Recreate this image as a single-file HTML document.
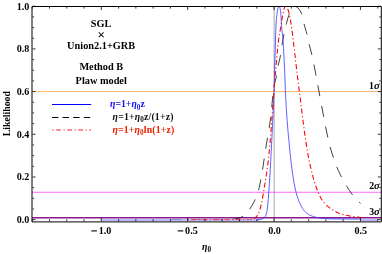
<!DOCTYPE html>
<html><head><meta charset="utf-8"><style>
html,body{margin:0;padding:0;background:#fff;}
svg{display:block;will-change:transform;}
text{font-family:"Liberation Serif",serif;font-weight:bold;font-size:9.8px;fill:#000;}
.i{font-style:italic;}
.sub{font-size:7.2px;}
.sg{font-size:10.6px;}
.t{font-size:10.3px;}
.k{font-size:10.1px;}
</style></head><body>
<svg width="382" height="254" viewBox="0 0 382 254">
<path d="M274.15,6.5 V221.7" stroke="#a8a8a8" stroke-width="1" fill="none"/>
<path d="M32,91.5 H381.5" stroke="#ffb672" stroke-width="1" fill="none"/>
<path d="M32,192.25 H381.5" stroke="#ff00ff" stroke-width="0.6" fill="none"/>
<path d="M32,217.7 H381.5" stroke="#8a1a8a" stroke-width="1.5" fill="none"/>
<path d="M294.50,6.50 L295.65,6.50 L295.80,6.55 L296.85,7.12 L297.90,7.95 L298.75,8.81 L299.55,9.84 L300.30,11.04 L300.95,12.32 L301.65,14.04 L302.10,15.49 L302.60,17.51 L304.05,23.99 L304.70,26.35 L306.20,31.35 L306.85,33.70 L307.50,36.45 L309.20,44.42 L311.85,54.68 L312.75,58.73 L313.70,63.31 L315.70,73.69 L324.15,119.34 L325.70,127.32 L327.10,134.10 L328.65,141.00 L330.10,146.77 L331.60,152.02 L333.35,157.52 L334.65,161.25 L335.95,164.71 L337.30,168.06 L338.75,171.40 L340.25,174.61 L341.80,177.70 L343.45,180.76 L345.15,183.72 L347.05,186.82 L349.10,189.96 L351.10,192.85 L352.90,195.25 L354.75,197.51 L356.65,199.63 L358.60,201.61 L360.60,203.45" stroke="#000" stroke-width="0.75" stroke-dasharray="11.2 9.8" stroke-dashoffset="20.89" fill="none"/>
<path d="M294.50,6.50 L293.45,6.51 L293.10,6.74 L292.75,7.04 L292.10,7.80 L291.50,8.75 L290.90,9.91 L290.25,11.40 L289.50,13.35 L288.70,15.62 L287.90,18.09 L286.50,23.02 L285.05,29.11 L283.60,36.12 L282.75,40.60 L282.10,44.40 L280.90,53.04 L280.45,55.71 L279.95,58.09 L278.80,62.85 L278.30,65.20 L277.85,67.75 L276.85,74.04 L276.35,76.74 L275.85,78.85 L274.50,83.72 L274.15,85.29 L273.80,87.19 L273.40,90.09 L272.95,94.18 L271.55,109.22 L271.00,114.65 L270.40,119.50 L269.65,124.77 L268.75,130.44 L266.10,146.13 L263.00,166.70 L261.55,175.67 L260.65,180.64 L259.80,184.83 L258.95,188.51 L258.10,191.66 L257.15,194.63 L256.10,197.42 L254.95,200.04 L253.60,202.72 L251.80,205.88 L249.70,209.22 L248.10,211.43 L246.45,213.36 L244.95,214.81 L243.45,215.99 L242.15,216.78 L240.60,217.51 L238.80,218.14 L236.80,218.64 L234.55,219.02 L232.00,219.29" stroke="#000" stroke-width="0.75" stroke-dasharray="11.2 9.8" stroke-dashoffset="11.34" fill="none"/>
<path d="M170.4,219.5 H223.6" stroke="#000" stroke-width="0.75" stroke-dasharray="10.8 10.2" fill="none"/>
<path d="M101.3,219.9 H259" stroke="#a6a6ff" stroke-width="1.5" fill="none"/>
<path d="M360.4,220.1 H377.7" stroke="#adadff" stroke-width="1.7" fill="none"/>
<path d="M257.00,219.63 L258.75,219.59 L260.05,219.49 L261.10,219.34 L262.00,219.10 L262.75,218.79 L263.40,218.40 L264.35,217.64 L264.90,217.02 L265.35,216.32 L265.80,215.39 L266.20,214.30 L266.55,213.06 L266.85,211.62 L267.15,209.78 L267.71,205.19 L268.21,199.67 L268.96,189.91 L270.06,173.07 L271.01,155.82 L273.01,115.85 L273.56,103.17 L274.06,89.82 L275.41,42.90 L275.81,30.63 L276.06,24.83 L276.31,20.87 L276.56,17.82 L276.91,14.41 L277.21,12.06 L277.56,9.96 L277.91,8.39 L278.31,7.14 L278.51,6.71 L278.66,6.50 L279.36,6.51 L279.66,7.09 L279.91,7.85 L280.16,8.89 L280.56,11.35 L280.96,15.27 L281.41,23.64 L281.66,26.99 L281.96,30.09 L282.66,36.20 L282.96,39.51 L283.51,47.71 L284.06,57.91 L284.71,72.32 L285.36,90.72 L285.91,101.43 L286.46,110.74 L287.16,120.91 L287.91,130.22 L288.77,139.50 L290.17,153.61 L291.12,162.30 L292.07,169.98 L293.07,177.00 L294.07,183.00 L295.07,188.05 L296.12,192.46 L297.42,196.98 L298.07,198.94 L298.77,200.85 L299.47,202.58 L300.17,204.14 L300.92,205.64 L301.67,206.99 L302.47,208.28 L303.27,209.42 L304.12,210.50 L305.02,211.51 L305.92,212.40 L306.82,213.18 L307.82,213.95 L308.67,214.50 L309.88,215.14 L311.23,215.77 L312.53,216.28 L313.88,216.72 L316.43,217.36 L320.03,218.04 L322.68,218.41 L325.23,218.61 L330.79,218.83 L337.24,218.97 L348.99,219.07 L360.40,219.10" stroke="#3838ff" stroke-width="0.8" fill="none"/>
<path d="M285.70,6.50 L286.30,6.50 L286.65,6.84 L287.00,7.33 L287.35,7.96 L287.70,8.75 L288.40,10.80 L289.10,13.44 L289.80,16.65 L290.50,20.44 L291.25,25.11 L292.15,31.64 L293.46,42.09 L297.16,74.12 L299.51,92.37 L303.21,122.40 L305.16,136.98 L306.06,143.06 L306.91,148.33 L307.96,154.27 L309.07,160.00 L310.17,165.27 L311.32,170.31 L312.47,174.92 L313.67,179.30 L314.92,183.44 L316.22,187.31 L317.77,191.44 L319.32,195.05 L320.72,197.82 L322.12,200.07 L323.02,201.31 L324.03,202.56 L325.08,203.75 L326.23,204.93 L327.28,205.92 L328.38,206.85 L329.58,207.78 L330.93,208.74 L334.08,210.75 L336.68,212.20 L337.88,212.78 L339.09,213.29 L340.24,213.71 L341.59,214.14 L343.39,214.62 L345.49,215.11 L348.69,215.78 L351.24,216.26 L355.45,216.88 L360.40,217.40" stroke="#ff0000" stroke-width="1.08" stroke-dasharray="5 2.5 1.2 2.5" stroke-dashoffset="7.82" fill="none"/>
<path d="M285.70,6.50 L285.15,6.50 L284.80,6.95 L284.50,7.53 L284.20,8.32 L283.90,9.30 L283.25,12.07 L282.45,16.49 L280.84,26.55 L279.24,35.61 L278.74,38.95 L278.29,42.50 L277.64,48.41 L276.94,55.63 L274.84,79.85 L273.58,95.65 L270.78,133.79 L269.93,144.13 L269.18,152.23 L268.13,161.83 L266.92,171.03 L265.42,180.98 L263.32,193.64 L261.87,201.54 L261.22,204.60 L260.62,207.10 L259.96,209.44 L259.31,211.41 L258.66,213.03 L257.96,214.44 L257.21,215.66 L256.36,216.73 L255.46,217.59 L254.51,218.24 L253.41,218.76 L252.20,219.12 L250.75,219.38 L249.00,219.53" stroke="#ff0000" stroke-width="1.08" stroke-dasharray="5 2.5 1.2 2.5" stroke-dashoffset="1.13" fill="none"/>
<path d="M187.7,219.65 H249" stroke="#ff3030" stroke-width="1" stroke-dasharray="1.2 2.45 5 2.45" fill="none"/>
<path d="M32,6.5 H381.3 V221.9 H32 Z" stroke="#000" stroke-width="1" fill="none"/>
<path d="M32.20,221.4 v-2.1 M32.20,7 v1.6 M49.47,221.4 v-2.1 M49.47,7 v1.6 M66.75,221.4 v-2.1 M66.75,7 v1.6 M84.03,221.4 v-2.1 M84.03,7 v1.6 M101.30,221.4 v-3.5 M101.30,7 v3.0 M118.58,221.4 v-2.1 M118.58,7 v1.6 M135.85,221.4 v-2.1 M135.85,7 v1.6 M153.12,221.4 v-2.1 M153.12,7 v1.6 M170.40,221.4 v-2.1 M170.40,7 v1.6 M187.68,221.4 v-3.5 M187.68,7 v3.0 M204.95,221.4 v-2.1 M204.95,7 v1.6 M222.23,221.4 v-2.1 M222.23,7 v1.6 M239.50,221.4 v-2.1 M239.50,7 v1.6 M256.78,221.4 v-2.1 M256.78,7 v1.6 M274.05,221.4 v-3.5 M274.05,7 v3.0 M291.32,221.4 v-2.1 M291.32,7 v1.6 M308.60,221.4 v-2.1 M308.60,7 v1.6 M325.88,221.4 v-2.1 M325.88,7 v1.6 M343.15,221.4 v-2.1 M343.15,7 v1.6 M360.43,221.4 v-3.5 M360.43,7 v3.0 M377.70,221.4 v-2.1 M377.70,7 v1.6 M32.5,219.65 h3.0 M380.8,219.65 h-3.0 M32.5,208.98 h1.6 M380.8,208.98 h-1.6 M32.5,198.31 h1.6 M380.8,198.31 h-1.6 M32.5,187.64 h1.6 M380.8,187.64 h-1.6 M32.5,176.97 h3.0 M380.8,176.97 h-3.0 M32.5,166.30 h1.6 M380.8,166.30 h-1.6 M32.5,155.63 h1.6 M380.8,155.63 h-1.6 M32.5,144.96 h1.6 M380.8,144.96 h-1.6 M32.5,134.29 h3.0 M380.8,134.29 h-3.0 M32.5,123.62 h1.6 M380.8,123.62 h-1.6 M32.5,112.95 h1.6 M380.8,112.95 h-1.6 M32.5,102.28 h1.6 M380.8,102.28 h-1.6 M32.5,91.61 h3.0 M380.8,91.61 h-3.0 M32.5,80.94 h1.6 M380.8,80.94 h-1.6 M32.5,70.27 h1.6 M380.8,70.27 h-1.6 M32.5,59.60 h1.6 M380.8,59.60 h-1.6 M32.5,48.93 h3.0 M380.8,48.93 h-3.0 M32.5,38.26 h1.6 M380.8,38.26 h-1.6 M32.5,27.59 h1.6 M380.8,27.59 h-1.6 M32.5,16.92 h1.6 M380.8,16.92 h-1.6 M32.5,6.25 h3.0 M380.8,6.25 h-3.0" stroke="#000" stroke-width="0.8" fill="none"/>
<text class="k" x="29.4" y="223.05" text-anchor="end">0.0</text>
<text class="k" x="29.4" y="180.37" text-anchor="end">0.2</text>
<text class="k" x="29.4" y="137.69" text-anchor="end">0.4</text>
<text class="k" x="29.4" y="95.01" text-anchor="end">0.6</text>
<text class="k" x="29.4" y="52.33" text-anchor="end">0.8</text>
<text class="k" x="29.4" y="9.65" text-anchor="end">1.0</text>
<text class="k" x="98.70" y="234.2">1.0</text><path d="M91.30,230.9 h5.6" stroke="#000" stroke-width="1.1" fill="none"/>
<text class="k" x="185.08" y="234.2">0.5</text><path d="M177.68,230.9 h5.6" stroke="#000" stroke-width="1.1" fill="none"/>
<text class="k" x="274.45" y="234.2" text-anchor="middle">0.0</text>
<text class="k" x="360.82" y="234.2" text-anchor="middle">0.5</text>
<text transform="translate(10,113.7) rotate(-90)" text-anchor="middle">Likelihood</text>
<text x="206.6" y="249.6" text-anchor="middle"><tspan class="i">η</tspan><tspan class="sub" dy="2.2">0</tspan></text>
<text x="101.1" y="27.4" text-anchor="middle" class="t">SGL</text>
<text x="101.1" y="38.6" text-anchor="middle" style="font-size:13px;">×</text>
<text x="101.1" y="48.8" text-anchor="middle" class="t">Union2.1+GRB</text>
<text x="101.3" y="69.5" text-anchor="middle" class="t">Method B</text>
<text x="101.2" y="84.2" text-anchor="middle" class="t">Plaw model</text>
<path d="M52,104.5 H91.2" stroke="#0000ff" stroke-width="1" fill="none"/>
<path d="M52,117.5 H91" stroke="#000" stroke-width="1" stroke-dasharray="6.4 4.2" fill="none"/>
<path d="M52.4,130 H91" stroke="#ff2020" stroke-width="1" stroke-dasharray="1.2 2.5 4.8 2.6" fill="none"/>
<text x="110" y="107.3" style="fill:#1010ff"><tspan class="i">η</tspan>=1+<tspan class="i">η</tspan><tspan class="sub" dy="2.2">0</tspan><tspan dy="-2.2">z</tspan></text>
<text x="112.6" y="119.9" style="fill:#111;letter-spacing:0.17px"><tspan class="i">η</tspan>=1+<tspan class="i">η</tspan><tspan class="sub" dy="2.2">0</tspan><tspan dy="-2.2">z/(1+z)</tspan></text>
<text x="112.4" y="133.1" style="fill:#e82000;letter-spacing:0.17px"><tspan class="i">η</tspan>=1+<tspan class="i">η</tspan><tspan class="sub" dy="2.2">0</tspan><tspan dy="-2.2">ln(1+z)</tspan></text>
<text x="369.0" y="88.6">1<tspan class="i sg">σ</tspan></text>
<text x="369.2" y="188.8">2<tspan class="i sg">σ</tspan></text>
<text x="369.2" y="214.6">3<tspan class="i sg">σ</tspan></text>
</svg>
</body></html>
